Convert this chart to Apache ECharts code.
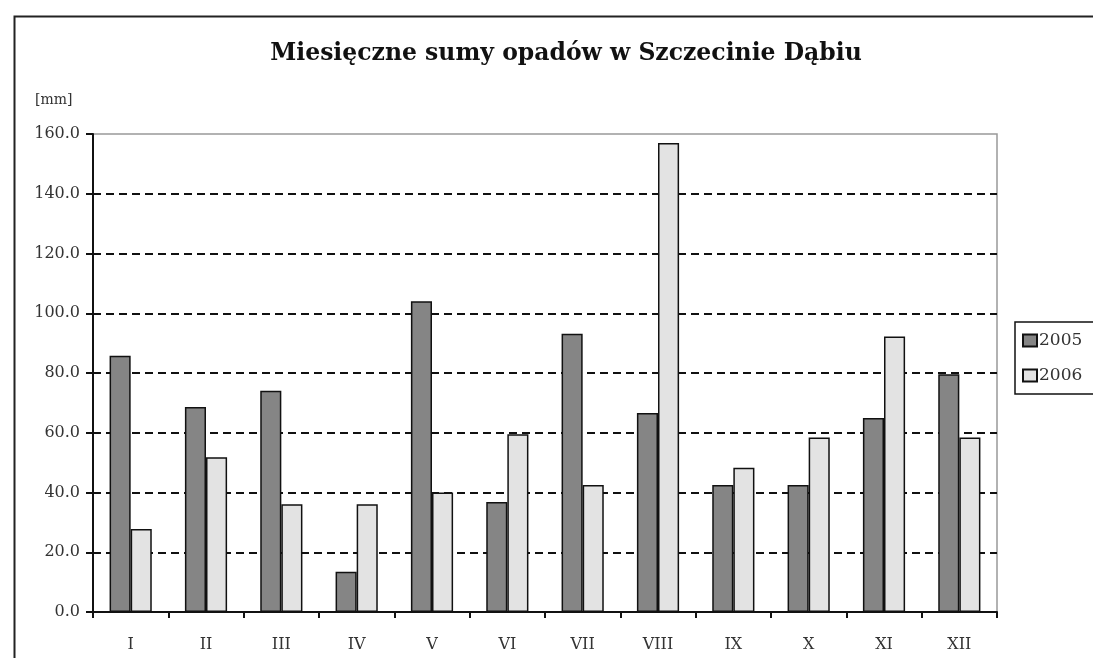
<!DOCTYPE html>
<html>
<head>
<meta charset="utf-8">
<script src="https://cdn.jsdelivr.net/npm/echarts@6/dist/echarts.min.js"></script>
<style>
  html, body { margin: 0; padding: 0; background: #fff; }
  #chart { width: 1093px; height: 658px; }
</style>
</head>
<body>
<div id="chart"></div>
<script>
// Monthly precipitation totals, Szczecin Dąbie [mm]
const months = ['I', 'II', 'III', 'IV', 'V', 'VI', 'VII', 'VIII', 'IX', 'X', 'XI', 'XII'];
const rain2005 = [85.8, 68.6, 74.1, 13.5, 104.0, 36.8, 93.1, 66.6, 42.5, 42.5, 64.9, 79.6];
const rain2006 = [27.8, 51.8, 36.1, 36.1, 40.0, 59.5, 42.5, 157.0, 48.3, 58.4, 92.2, 58.4];
const yMin = 0, yMax = 160, yStep = 20;

const serif = '"DejaVu Serif", "Liberation Serif", serif';
const tickCount = (yMax - yMin) / yStep + 1;
// dashed grid lines everywhere except the top edge, which is the plot border
const gridColors = Array.from({ length: tickCount }, (_, i) => i === tickCount - 1 ? 'rgba(0,0,0,0)' : '#111');

const chart = echarts.init(document.getElementById('chart'));
chart.setOption({
  backgroundColor: '#fff',
  animation: false,
  title: {
    text: 'Miesięczne sumy opadów w Szczecinie Dąbiu',
    left: 561, top: 37, textAlign: 'center',
    textStyle: { fontFamily: serif, fontWeight: 'bold', fontSize: 23.5, color: '#111' }
  },
  graphic: [
    { type: 'rect', left: 12, top: 14, shape: { width: 1200, height: 800 },
      style: { fill: 'none', stroke: '#222', lineWidth: 2 }, silent: true },
    { type: 'text', left: 35, top: 93,
      style: { text: '[mm]', font: '14px ' + serif, fill: '#333' } }
  ],
  legend: {
    orient: 'vertical', left: 1015, top: 322,
    icon: 'rect',
    itemWidth: 14, itemHeight: 12, itemGap: 18,
    padding: [10, 20, 10, 7],
    borderColor: '#111', borderWidth: 1.5,
    textStyle: { fontFamily: serif, fontSize: 17, color: '#333', padding: [0, 0, 0, -3] },
    data: ['2005', '2006']
  },
  grid: {
    left: 93, right: 96, top: 134, bottom: 46,
    show: true, borderColor: '#999', borderWidth: 1.5, backgroundColor: 'transparent'
  },
  xAxis: {
    type: 'category', data: months,
    axisLine: { lineStyle: { color: '#111', width: 2 } },
    axisTick: { show: true, alignWithLabel: false, length: 6, lineStyle: { color: '#111', width: 2 } },
    axisLabel: { fontFamily: serif, fontSize: 16, color: '#333', margin: 25 }
  },
  yAxis: {
    type: 'value', min: yMin, max: yMax, interval: yStep,
    axisLine: { show: true, lineStyle: { color: '#111', width: 2 } },
    axisTick: { show: true, length: 7, lineStyle: { color: '#111', width: 2 } },
    axisLabel: { fontFamily: serif, fontSize: 16, color: '#333', margin: 13,
      formatter: v => v.toFixed(1) },
    splitLine: { show: true, lineStyle: { color: gridColors, width: 2, type: [8, 5] } }
  },
  series: [
    { name: '2005', type: 'bar', data: rain2005, barGap: '0%', barCategoryGap: '44%',
      itemStyle: { color: '#858585', borderColor: '#111', borderWidth: 1.5 } },
    { name: '2006', type: 'bar', data: rain2006, barGap: '0%', barCategoryGap: '44%',
      itemStyle: { color: '#e3e3e3', borderColor: '#111', borderWidth: 1.5 } }
  ]
});
</script>
</body>
</html>
